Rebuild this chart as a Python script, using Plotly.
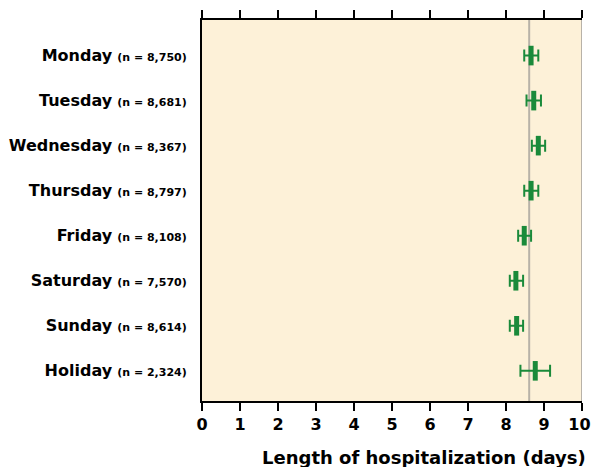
import plotly.graph_objects as go

days = ["Monday", "Tuesday", "Wednesday", "Thursday", "Friday", "Saturday", "Sunday", "Holiday"]
counts = ["8,750", "8,681", "8,367", "8,797", "8,108", "7,570", "8,614", "2,324"]
means = [8.66, 8.73, 8.85, 8.66, 8.48, 8.26, 8.28, 8.77]
lower = [8.48, 8.54, 8.68, 8.48, 8.32, 8.10, 8.10, 8.38]
upper = [8.85, 8.92, 9.03, 8.85, 8.66, 8.45, 8.45, 9.16]
overall_mean = 8.61
x_ticks = list(range(0, 11))

GREEN = "#1a8a3a"
BG = "#fdf1d8"
FONT = "DejaVu Sans, sans-serif"

ypos = list(range(len(days)))
err_plus = [u - m for u, m in zip(upper, means)]
err_minus = [m - l for m, l in zip(means, lower)]

fig = go.Figure()
fig.add_trace(go.Scatter(
    x=means, y=ypos, mode="markers",
    marker=dict(symbol="line-ns", size=14, color=GREEN, line=dict(color=GREEN, width=5)),
    error_x=dict(type="data", symmetric=False, array=err_plus, arrayminus=err_minus,
                 color=GREEN, thickness=2, width=6),
    showlegend=False, hoverinfo="skip",
))

ticktext = [f"<b>{d}</b> <span style='font-size:11px'><b>(n = {c})</b></span>" for d, c in zip(days, counts)]
# last label nudged inward (as in the reference) so it stays inside the page
x_ticktext = [f"<b>{t}</b>" if t < 10 else f"<b>{t}</b>\u00a0" for t in x_ticks]

fig.update_layout(
    width=591, height=467,
    margin=dict(l=202, r=9, t=20, b=66, autoexpand=False),
    paper_bgcolor="white", plot_bgcolor=BG,
    font=dict(family=FONT, color="black"),
    xaxis=dict(range=[0, 10], tickvals=x_ticks, ticktext=x_ticktext,
               showgrid=False, zeroline=False, showline=True, linecolor="black", linewidth=2,
               ticks="outside", ticklen=8, tickwidth=2, tickcolor="black",
               mirror="allticks", ticklabeloverflow="allow", automargin=False,
               tickfont=dict(size=16, family=FONT)),
    yaxis=dict(range=[7.67, -0.79], tickvals=ypos, ticktext=ticktext, automargin=False,
               showgrid=False, zeroline=False, showline=True, linecolor="black", linewidth=2,
               ticks="", ticklabelstandoff=10, tickfont=dict(size=16, family=FONT, color="black")),
    shapes=[
        dict(type="line", xref="x", yref="paper", x0=overall_mean, x1=overall_mean, y0=0, y1=1,
             line=dict(color="#b8b2a8", width=2), layer="below"),
        dict(type="line", xref="x", yref="paper", x0=10, x1=10, y0=0, y1=1,
             line=dict(color="#b8b2a8", width=2)),
    ],
    annotations=[dict(text="<b>Length of hospitalization (days)</b>", xref="paper", yref="paper",
                      x=1.0158, y=-0.1496, xanchor="right", yanchor="middle", showarrow=False,
                      font=dict(size=18, family=FONT, color="black"))],
)

fig.write_html("out.html", config={"displayModeBar": False},
               post_script="document.body.style.margin='0';")
